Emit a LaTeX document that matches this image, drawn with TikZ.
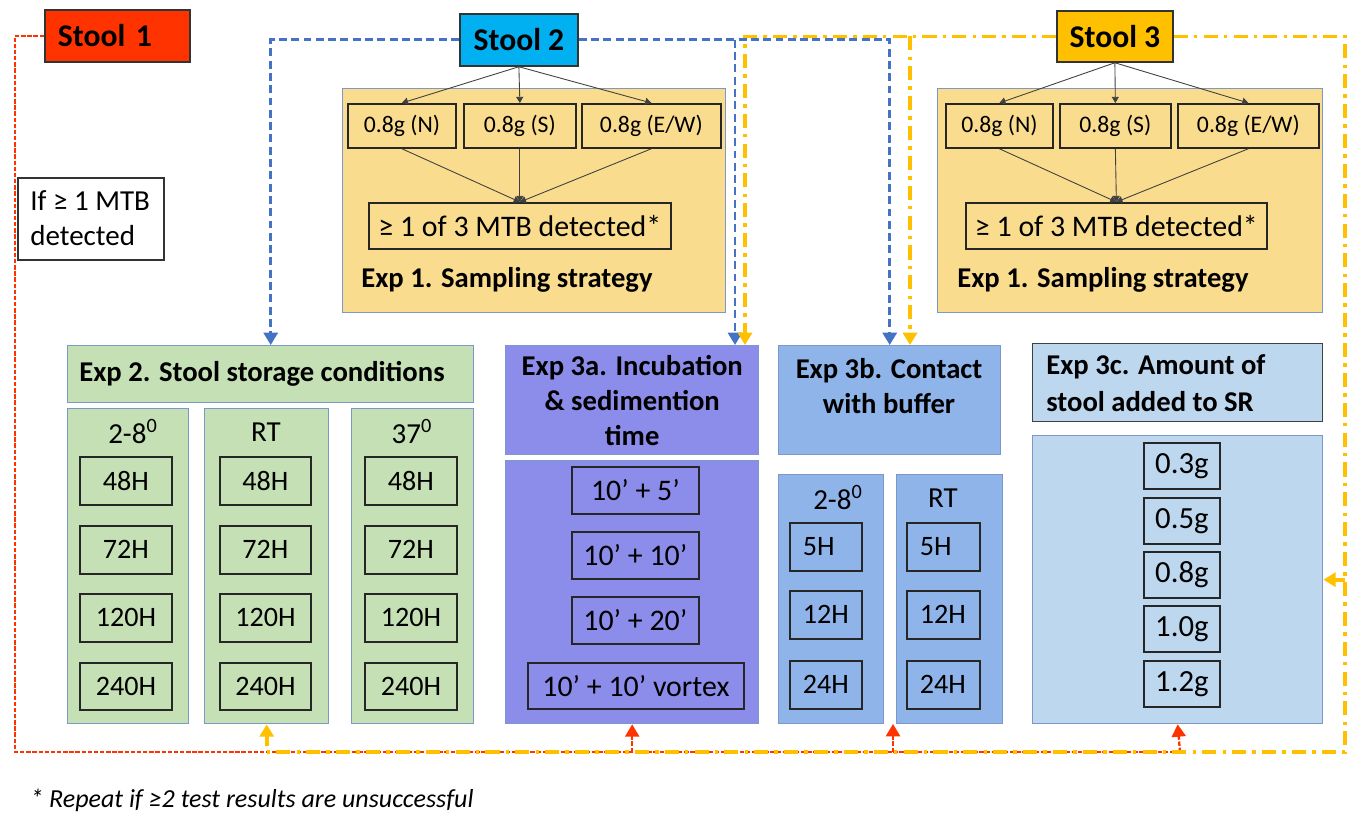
\documentclass[tikz,border=0pt]{standalone}
\usepackage{fontspec}
\setmainfont{Carlito}
\usepackage{tikz}
\usetikzlibrary{arrows.meta}
\definecolor{stoolred}{HTML}{FF3300}
\definecolor{stoolblue}{HTML}{00B0F0}
\definecolor{stoolgold}{HTML}{FFC000}
\definecolor{sable}{HTML}{FADC8E}
\definecolor{vert}{HTML}{C5E0B4}
\definecolor{lilas}{HTML}{8C8CEA}
\definecolor{ciel}{HTML}{8FB4EA}
\definecolor{pale}{HTML}{BDD7EE}
\definecolor{trait}{HTML}{4472C4}
\definecolor{border}{HTML}{7C98C8}
\tikzstyle{stool} = [rectangle, draw=black!80, line width=1pt, anchor=north west, inner sep=0pt, font=\fontsize{18}{21}\selectfont\bfseries]
\tikzstyle{panel} = [rectangle, draw=border, line width=0.8pt, anchor=north west, inner sep=0pt]
\tikzstyle{cell} = [rectangle, draw=black!85, line width=1pt, anchor=north west, inner sep=0pt, font=\fontsize{16}{19}\selectfont]
\tikzstyle{gram} = [cell, font=\fontsize{13.5}{16}\selectfont]
\tikzstyle{heading} = [inner sep=0pt, font=\fontsize{16.3}{20}\selectfont\bfseries]
\tikzstyle{coltitle} = [inner sep=0pt, font=\fontsize{16.5}{19}\selectfont]
\tikzstyle{fine} = [draw=black!75, line width=0.5pt, -{Triangle[width=4pt,length=3.5pt]}]
\tikzstyle{redline} = [draw=stoolred, line width=1.3pt, dash pattern=on 2.5pt off 1pt]
\tikzstyle{blueline} = [draw=trait, line width=1.6pt, dash pattern=on 4.5pt off 2.5pt]
\tikzstyle{goldline} = [draw=stoolgold, line width=2.1pt, dash pattern=on 8pt off 3.5pt on 2pt off 3.5pt]
\tikzstyle{tip} = [-{Triangle[width=8pt,length=7pt]}]
\tikzset{wh/.style 2 args={minimum width=#1*0.02cm, minimum height=#2*0.02cm}}

\begin{document}
\begin{tikzpicture}[x=0.02cm,y=-0.02cm]
\useasboundingbox (0,0) rectangle (1357,813);

% stools
\node [stool, fill=stoolred, wh={145}{52}, text width=2.38cm, inner xsep=0.26cm, align=left] (s1) at (44,9) {Stool 1};
\node [stool, fill=stoolblue, wh={118}{52}] (s2) at (459,13) {Stool 2};
\node [stool, fill=stoolgold, wh={116}{51}] (s3) at (1056,10) {Stool 3};

\node [rectangle, draw=black!80, line width=1pt, fill=white, anchor=north west, wh={146}{82}, inner sep=0pt] (ifbox) at (17,177) {};
\node [coltitle, anchor=west, align=left, font=\fontsize{16.5}{20}\selectfont] (iftext) at (30,218) {If ≥ 1 MTB\\detected};

% Exp 1 (stool 2)
\node [panel, fill=sable, wh={383}{224}] (samp1) at (342,88) {};
\node [gram, wh={108}{44}] (n1) at (347,103) {0.8g (N)};
\node [gram, wh={112}{44}] (m1) at (463,103) {0.8g (S)};
\node [gram, wh={139}{44}] (w1) at (581,103) {0.8g (E/W)};
\node [gram, wh={302}{46}, font=\fontsize{17}{20}\selectfont] (d1) at (368,202) {≥ 1 of 3 MTB detected*};
\node [heading, anchor=west] (t1) at (361,280) {Exp 1. Sampling strategy};
\draw [fine] (s2.south) -- (n1.north);
\draw [fine] (s2.south) -- (m1.north);
\draw [fine] (s2.south) -- (w1.north);
\draw [fine] (n1.south) -- (d1.north);
\draw [fine] (m1.south) -- (d1.north);
\draw [fine] (w1.south) -- (d1.north);

% Exp 1 (stool 3)
\node [panel, fill=sable, wh={385}{224}] (samp2) at (937,88) {};
\node [gram, wh={107}{44}] (n2) at (945,103) {0.8g (N)};
\node [gram, wh={111}{44}] (m2) at (1059,103) {0.8g (S)};
\node [gram, wh={141}{44}] (w2) at (1177,103) {0.8g (E/W)};
\node [gram, wh={301}{46}, font=\fontsize{17}{20}\selectfont] (d2) at (965,202) {≥ 1 of 3 MTB detected*};
\node [heading, anchor=west] (t2) at (957,280) {Exp 1. Sampling strategy};
\draw [fine] (s3.south) -- (n2.north);
\draw [fine] (s3.south) -- (m2.north);
\draw [fine] (s3.south) -- (w2.north);
\draw [fine] (n2.south) -- (d2.north);
\draw [fine] (m2.south) -- (d2.north);
\draw [fine] (w2.south) -- (d2.north);

% Exp 2
\node [panel, fill=vert, wh={406}{57}] (e2) at (67,345) {};
\node [heading, anchor=west] (e2t) at (79,374) {Exp 2. Stool storage conditions};
\node [panel, fill=vert, wh={121}{315}] (cold) at (67,408) {};
\node [panel, fill=vert, wh={124}{315}] (room) at (204,408) {};
\node [panel, fill=vert, wh={122}{315}] (warm) at (351,408) {};
\node [coltitle] (coldt) at (133,432) {2-8\textsuperscript{0}};
\node [coltitle] (roomt) at (266,432) {RT};
\node [coltitle] (warmt) at (412,432) {37\textsuperscript{0}};
\node [cell, fill=vert, wh={92}{48}] (c48) at (79,456) {48H};
\node [cell, fill=vert, wh={92}{48}] (c72) at (79,525) {72H};
\node [cell, fill=vert, wh={92}{48}] (c120) at (79,593) {120H};
\node [cell, fill=vert, wh={92}{47}] (c240) at (79,662) {240H};
\node [cell, fill=vert, wh={91}{48}] (r48) at (219,456) {48H};
\node [cell, fill=vert, wh={91}{48}] (r72) at (219,525) {72H};
\node [cell, fill=vert, wh={91}{48}] (r120) at (219,593) {120H};
\node [cell, fill=vert, wh={91}{47}] (r240) at (219,662) {240H};
\node [cell, fill=vert, wh={92}{48}] (w48) at (364,456) {48H};
\node [cell, fill=vert, wh={92}{48}] (w72) at (364,525) {72H};
\node [cell, fill=vert, wh={92}{48}] (w120) at (364,593) {120H};
\node [cell, fill=vert, wh={92}{47}] (w240) at (364,662) {240H};

% Exp 3a
\node [panel, fill=lilas, heading, align=center, wh={253}{109}] (e3a) at (505,345) {Exp 3a. Incubation\\\& sedimention\\time};
\node [panel, fill=lilas, wh={253}{263}] (e3abody) at (505,460) {};
\node [cell, wh={127}{47}, font=\fontsize{17}{20}\selectfont] (i5) at (571,466) {10’ + 5’};
\node [cell, wh={127}{47}, font=\fontsize{17}{20}\selectfont] (i10) at (571,531) {10’ + 10’};
\node [cell, wh={127}{47}, font=\fontsize{17}{20}\selectfont] (i20) at (571,596) {10’ + 20’};
\node [cell, wh={216}{46}, font=\fontsize{17}{20}\selectfont] (ivx) at (527,662) {10’ + 10’ vortex};

% Exp 3b
\node [panel, fill=ciel, wh={222}{109}] (e3b) at (778,345) {};
\node [heading, align=center] (e3bt) at (889,386) {Exp 3b. Contact\\with buffer};
\node [panel, fill=ciel, wh={105}{249}] (bcold) at (778,474) {};
\node [panel, fill=ciel, wh={106}{249}] (broom) at (896,474) {};
\node [coltitle] (bcoldt) at (838,498) {2-8\textsuperscript{0}};
\node [coltitle] (broomt) at (943,498) {RT};
\node [cell, wh={72}{48}, text width=0.92cm, inner xsep=0.26cm, align=left] (bc5) at (789,522) {5H};
\node [cell, wh={72}{48}, text width=0.92cm, inner xsep=0.26cm, align=left] (bc12) at (789,590) {12H};
\node [cell, wh={72}{48}, text width=0.92cm, inner xsep=0.26cm, align=left] (bc24) at (789,660) {24H};
\node [cell, wh={73}{48}, text width=0.94cm, inner xsep=0.26cm, align=left] (br5) at (906,522) {5H};
\node [cell, wh={73}{48}, text width=0.94cm, inner xsep=0.26cm, align=left] (br12) at (906,590) {12H};
\node [cell, wh={73}{48}, text width=0.94cm, inner xsep=0.26cm, align=left] (br24) at (906,660) {24H};

% Exp 3c
\node [panel, draw=black!75, fill=pale, wh={290}{78}] (e3c) at (1032,343) {};
\node [heading, anchor=west, align=left, font=\fontsize{16.3}{21}\selectfont\bfseries] (e3ct) at (1046,383) {Exp 3c. Amount of\\stool added to SR};
\node [panel, fill=pale, wh={290}{288}] (e3cbody) at (1032,435) {};
\node [cell, wh={76}{46}, font=\fontsize{17.5}{20}\selectfont] (g3) at (1143,442) {0.3g};
\node [cell, wh={76}{46}, font=\fontsize{17.5}{20}\selectfont] (g5) at (1143,497) {0.5g};
\node [cell, wh={76}{46}, font=\fontsize{17.5}{20}\selectfont] (g8) at (1143,551) {0.8g};
\node [cell, wh={76}{46}, font=\fontsize{17.5}{20}\selectfont] (g10) at (1143,605) {1.0g};
\node [cell, wh={76}{46}, font=\fontsize{17.5}{20}\selectfont] (g12) at (1143,660) {1.2g};

\node [anchor=west, inner sep=0pt, font=\fontsize{14.8}{17}\selectfont\itshape] (note) at (30,800) {* Repeat if ≥2 test results are unsuccessful};

% connectors
\coordinate (rl) at (15,752);
\coordinate (rr) at (1180,752);
\coordinate (gr) at (1345,752);
\coordinate (m3b) at (893,724);
\coordinate (b3a) at (735,345);
\coordinate (y3a) at (745,345);
\coordinate (y3b) at (910,345);

\draw [redline] (s1.west) -| (rl) -- (rr);
\draw [redline, tip, stoolred] (e3abody.south |- rl) -- (e3abody.south);
\draw [redline, tip, stoolred] (m3b |- rl) -- (m3b);
\draw [redline, tip, stoolred] (rr) -- (e3cbody.south);

\draw [blueline, tip, trait] (s2.west) -| (e2.north);
\draw [blueline, tip, trait] (s2.east) -| (e3b.north);
\draw [blueline, tip, trait] (b3a |- s2.east) -- (b3a);

\draw [goldline, tip, stoolgold] (s3.west) -| (y3a);
\draw [goldline, tip, stoolgold] (y3b |- s3.west) -- (y3b);
\draw [goldline, tip, stoolgold] (s3.east) -| (gr) -- (room.south |- gr) -- (room.south);
\draw [goldline, tip, stoolgold] (gr |- e3cbody.east) -- (e3cbody.east);
\end{tikzpicture}
\end{document}
